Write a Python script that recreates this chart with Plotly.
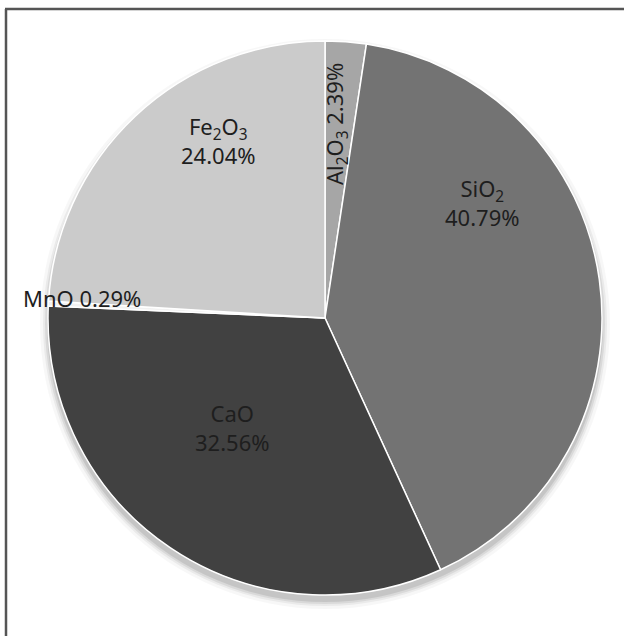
import plotly.graph_objects as go

# Oxide composition (wt %)
oxides = ["Al<sub>2</sub>O<sub>3</sub>", "SiO<sub>2</sub>", "CaO", "MnO", "Fe<sub>2</sub>O<sub>3</sub>"]
shares = [2.39, 40.79, 32.56, 0.29, 24.04]
slice_colors = ["#a6a6a6", "#737373", "#414141", "#f2f2f2", "#cbcbcb"]

W, H = 624, 636
L, R, T, B = 48, 22, 41, 41
PW, PH = W - L - R, H - T - B


def px(x):
    return (x - L) / PW


def py(y):
    return (H - B - y) / PH


fig = go.Figure()
fig.add_trace(go.Pie(
    labels=oxides,
    values=shares,
    sort=False,
    direction="clockwise",
    rotation=0,
    textinfo="none",
    hoverinfo="label+percent",
    marker=dict(colors=slice_colors, line=dict(color="white", width=1.5)),
    showlegend=False,
))

# soft drop shadow under the pie, strongest below it
shapes = []
for grow, op in [(8, 0.03), (5, 0.05), (3, 0.07), (1, 0.09)]:
    shapes.append(dict(
        type="circle", xref="paper", yref="paper", layer="below",
        x0=px(48 - grow), x1=px(602 + grow), y0=py(41 - grow + 6), y1=py(595 + grow + 6),
        fillcolor=f"rgba(0,0,0,{op})", line=dict(width=0),
    ))
# chart frame: left and top edges
frame = dict(color="#555555", width=2.5)
shapes.append(dict(type="line", xref="paper", yref="paper",
                   x0=px(6), x1=px(6), y0=py(H + 5), y1=py(9), line=frame))
shapes.append(dict(type="line", xref="paper", yref="paper",
                   x0=px(5), x1=px(W + 5), y0=py(9), y1=py(9), line=frame))

font = dict(family="Noto Sans, Open Sans, sans-serif", size=22, color="#1e1e1e")
pct = [f"{v:.2f}%" for v in shares]
annotations = [
    dict(x=px(336), y=py(124), text=f"{oxides[0]} {pct[0]}", textangle=-90),
    dict(x=px(482), y=py(202), text=f"{oxides[1]}<br>{pct[1]}"),
    dict(x=px(232), y=py(428), text=f"{oxides[2]}<br>{pct[2]}"),
    dict(x=px(82), y=py(298), text=f"{oxides[3]} {pct[3]}"),
    dict(x=px(218), y=py(140), text=f"{oxides[4]}<br>{pct[4]}"),
]
for a in annotations:
    a.update(xref="paper", yref="paper", showarrow=False, font=font,
             xanchor="center", yanchor="middle")

fig.update_layout(
    width=W, height=H,
    margin=dict(l=L, r=R, t=T, b=B),
    paper_bgcolor="white",
    plot_bgcolor="white",
    shapes=shapes,
    annotations=annotations,
)

fig.write_html("out.html")
